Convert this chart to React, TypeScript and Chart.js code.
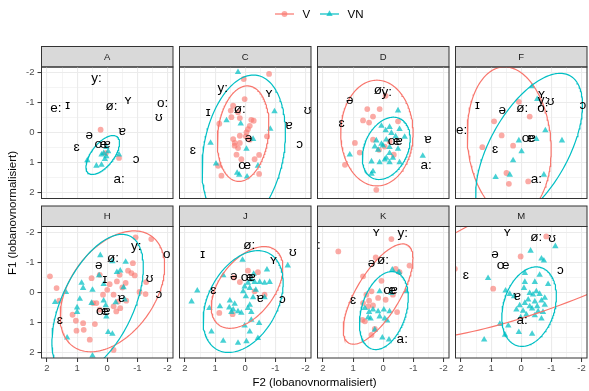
import React, { useEffect, useRef } from "react";
import { Chart, registerables } from "chart.js";

Chart.register(...registerables);

type Pt = [number, number];
type Lbl = [string, number, number];
// centre x, centre y, semi-major, semi-minor, angle (degrees, data space)
type Ell = [number, number, number, number, number] | null;

// ---- panel A ----
const A_V: Pt[] = [[0.22, -0.1], [-0.39, 0.84], [0.05, 0.68]];
const A_VN: Pt[] = [[0.03, 0.48], [0.12, 0.68], [0.19, 0.73], [0.03, 0.79], [0.08, 0.88], [0.36, 1.1], [0.19, 1.07], [0.66, 0.92], [-0.39, 0.73], [-0.03, 0.62]];
const A_LABELS: Lbl[] = [["y:", 0.36, -1.82], ["e:", 1.7, -0.82], ["ɪ", 1.31, -0.93], ["ø:", -0.14, -0.88], ["ʏ", -0.69, -1.07], ["o:", -1.84, -0.97], ["ʊ", -1.71, -0.52], ["ʊ", -2.3, -1.99], ["ə", 0.6, 0.1], ["ɐ", -0.5, -0.04], ["ɛ", 1.02, 0.48], ["œ", 0.21, 0.4], ["ɐ", 0.01, 0.38], ["ɔ", -0.96, 0.88], ["a:", -0.39, 1.54]];
const A_V_ELL: Ell = null;
const A_VN_ELL: Ell = [0.15, 0.74, 0.77, 0.37, 52];

// ---- panel C ----
const C_V: Pt[] = [[-0.79, -1.96], [0.05, -1.79], [0.02, -1.12], [0.4, -0.9], [0.48, -0.74], [0.24, -0.68], [0.18, -0.49], [0.46, -0.52], [0.86, -0.3], [-0.28, -0.4], [-0.2, -0.43], [-0.15, -0.23], [-0.09, -0.12], [-0.04, -0.01], [-0.02, 0.12], [0.4, 0.21], [0.18, 0.1], [0.35, 0.34], [0.18, 0.34], [0.24, 0.51], [0.29, 0.73], [0.13, 0.88], [-0.31, 0.88], [-0.46, 0.74], [-0.46, 1.37], [0.79, 1.43], [0.9, 1.1], [-0.72, 0.12], [0.35, 0.43], [-0.15, 0.23]];
const C_VN: Pt[] = [[0.24, -2.02], [-0.97, -0.71], [0.62, -0.41], [0.15, -0.3], [-0.83, -0.13], [-0.26, 0.21], [1.15, 0.34], [-0.04, 0.54], [0.97, 1.03], [0.27, 1.34], [-0.06, 1.46], [-0.42, 1.1], [0.2, 1.4]];
const C_LABELS: Lbl[] = [["y:", 0.75, -1.49], ["ʏ", -0.79, -1.3], ["ɪ", 1.23, -0.68], ["ø:", 0.18, -0.79], ["ʊ", -2.07, -0.74], ["ɐ", -1.45, -0.24], ["ə", -0.11, 0.18], ["ɔ", -1.8, 0.37], ["ɛ", 1.74, 0.59], ["œ", 0.02, 1.1]];
const C_V_ELL: Ell = [0.07, 0.03, 1.6, 0.84, 83];
const C_VN_ELL: Ell = [0.05, 0.6, 2.55, 1.33, 80];

// ---- panel D ----
const D_V: Pt[] = [[-0.08, -1.23], [0.53, -0.79], [0.12, -0.79], [0.67, -0.41], [0.34, -0.54], [0.47, -0.34], [-0.49, -0.38], [0.94, 0.34], [0.78, 0.66], [1.27, 1.07], [0.23, 1.9], [0.14, 0.57], [-0.35, 0.73], [-0.05, 0.46], [0.34, 0.23], [-0.21, 0.29]];
const D_VN: Pt[] = [[-0.49, -0.74], [0.06, -0.23], [-0.21, -0.19], [-0.54, -0.12], [-0.08, -0.08], [-0.27, 0.01], [-0.41, 0.12], [-0.71, 0.14], [-0.1, 0.23], [0.23, 0.26], [0.06, 0.37], [0.01, 0.43], [0.28, 0.46], [-0.21, 0.48], [-0.49, 0.54], [1.11, 0.73], [0.39, 0.96], [0.12, 0.99], [-0.05, 0.9], [-0.21, 0.99], [-0.1, 0.84], [-0.32, 0.84], [-0.54, 0.99], [0.34, 1.29], [0.39, 1.37], [-1.31, 0.77], [0.17, 0.57], [-0.21, 0.68]];
const D_LABELS: Lbl[] = [["ø:", 0.12, -1.41], ["y:", -0.12, -1.36], ["ə", 1.11, -1.07], ["ɛ", 1.38, -0.3], ["œ", -0.36, 0.29], ["ɐ", -0.52, 0.27], ["ɐ", -1.48, 0.21], ["a:", -1.42, 1.1]];
const D_V_ELL: Ell = [0.21, 0.01, 1.76, 1.2, 90];
const D_VN_ELL: Ell = [-0.1, 0.52, 1.09, 0.72, 66];

// ---- panel F ----
const F_V: Pt[] = [[0.08, -1.03], [-0.28, -0.54], [0.9, -0.38], [0.65, 0.09], [1.29, 0.48], [0.27, 0.43], [0.49, 1.34], [0.41, 1.7], [-0.23, 1.62]];
const F_VN: Pt[] = [[-0.36, -1.54], [-0.53, -1.12], [-0.8, -0.08], [0.08, 0.26], [-0.5, 0.21], [-1.35, 0.26], [-0.01, 0.62], [0.27, 0.92], [0.85, 1.48], [0.38, 1.4], [-0.75, 1.4]];
const F_LABELS: Lbl[] = [["ɪ", 1.45, -0.93], ["ə", 0.63, -0.74], ["ø:", -0.03, -0.82], ["ʏ", -0.67, -1.27], ["y:", -0.72, -1.08], ["ʊ", -0.97, -1.04], ["o:", -0.72, -0.8], ["ɔ", -2.04, -0.9], ["e:", 1.975, -0.08], ["œ", -0.23, 0.18], ["ɐ", -0.36, 0.18], ["ɛ", 0.87, 0.54], ["a:", -0.5, 1.54]];
const F_V_ELL: Ell = [0.4, 0.3, 2.5, 1.38, 95];
const F_VN_ELL: Ell = [-0.26, 0.55, 2.8, 1.3, 61];

// ---- panel H ----
const H_V: Pt[] = [[1.9, -0.53], [1.68, -0.14], [1.59, 0.28], [1.15, 0.75], [1.04, 0.95], [0.8, 1.03], [0.78, 1.25], [0.58, 1.58], [0.52, -0.47], [0.47, 0.36], [0.25, -0.58], [0.14, 0.08], [0.0, -0.08], [-0.08, -0.27], [-0.21, 0.08], [-0.32, -0.36], [-0.41, -0.58], [-0.5, -0.16], [-0.61, -0.31], [-0.69, -0.72], [-0.85, -0.97], [-0.8, -0.64], [-0.94, -1.83], [-1.46, -1.77], [-0.91, -0.56], [-1.07, -0.01], [-1.27, 0.06], [-1.29, -0.34], [-0.21, 0.47], [-0.3, 0.64], [0.36, 0.36], [0.25, 0.58], [-0.36, 0.31], [0.41, 1.06], [-0.21, 1.92], [-0.63, 0.28], [-0.43, 0.53], [1.02, 1.28]];
const H_VN: Pt[] = [[1.73, 0.33], [1.37, 0.0], [1.33, 1.51], [1.0, 0.51], [1.0, 0.66], [0.91, 0.22], [0.85, -0.31], [0.8, -0.14], [0.49, -0.08], [0.52, 0.36], [0.23, -1.23], [0.27, -0.56], [0.12, 0.28], [0.05, 0.44], [0.03, 0.81], [0.12, -0.27], [-0.17, -1.03], [-0.28, 0.34], [-0.32, -0.67], [-0.43, -0.72], [-0.61, -1.01], [-0.54, -0.16], [-0.58, 0.25], [-0.03, 1.33], [-0.17, 1.39], [0.49, 2.11]];
const H_LABELS: Lbl[] = [["y:", -0.96, -1.53], ["o", -1.97, -1.27], ["ø:", -0.19, -1.14], ["ə", 0.28, -0.89], ["ɪ", 0.08, -0.42], ["ʊ", -1.4, -0.47], ["ɔ", -1.71, 0.06], ["ɐ", -0.47, 0.19], ["œ", 0.16, 0.62], ["ɐ", 0.02, 0.62], ["ɛ", 1.57, 0.95]];
const H_V_ELL: Ell = [-0.17, -0.03, 2.25, 1.41, 55];
const H_VN_ELL: Ell = [0.32, 0.41, 2.52, 1.19, 65];

// ---- panel J ----
const J_V: Pt[] = [[0.38, -0.49], [0.18, -0.34], [-0.09, -0.72], [-0.42, -0.67], [-0.31, -0.03], [-0.64, 0.08], [0.86, 0.69], [0.42, 0.73]];
const J_VN: Pt[] = [[0.09, -1.08], [0.73, -0.56], [-0.72, -0.75], [-0.28, -0.61], [-0.2, -0.42], [-0.09, -0.31], [-0.31, -0.34], [-0.48, -0.34], [-0.64, -0.31], [-0.81, -0.34], [0.02, -0.19], [-0.15, -0.14], [0.07, -0.03], [-0.35, -0.08], [-0.02, 0.14], [-0.26, 0.17], [-0.64, 0.17], [0.51, 0.28], [0.35, 0.39], [0.53, 0.51], [0.4, 0.58], [0.46, 0.66], [0.24, 0.64], [0.13, 0.69], [-0.15, 0.42], [-0.09, 0.53], [-0.2, 0.66], [0.84, 0.47], [1.19, 0.53], [1.59, -0.05], [1.78, 0.31], [0.02, 1.11], [-0.15, 1.31], [-0.46, 1.03], [-0.42, 1.53], [0.24, 1.69], [-0.04, 1.64], [0.73, 1.62], [1.12, 1.31], [-1.41, -0.89], [-0.2, 0.92]];
const J_LABELS: Lbl[] = [["ɪ", 1.41, -1.27], ["ø:", -0.13, -1.56], ["ʊ", -1.58, -1.34], ["ʏ", -0.94, -1.05], ["ə", 0.38, -0.53], ["œ", -0.06, -0.49], ["ɐ", -0.22, -0.5], ["ɐ", -0.5, 0.19], ["ɛ", 1.06, -0.05], ["ɔ", -1.23, 0.25]];
const J_V_ELL: Ell = [-0.06, -0.16, 1.56, 0.91, 53];
const J_VN_ELL: Ell = [0.07, 0.31, 1.82, 1.15, 62];

// ---- panel K ----
const K_V: Pt[] = [[1.49, -1.36], [-0.27, -1.77], [0.25, -1.16], [-0.41, -0.78], [-0.87, -0.89], [0.67, -0.53], [0.06, -0.38], [-0.54, -0.67], [0.39, -0.03], [-0.32, 0.08], [0.56, 0.08], [0.17, 0.19], [-0.08, 0.25], [0.47, 0.28], [0.67, 0.36], [0.5, 0.47], [0.34, 0.44], [-0.46, 0.66], [0.69, 0.92], [0.61, 0.97], [0.28, 1.22], [0.39, 1.42]];
const K_VN: Pt[] = [[-0.3, -0.75], [-0.52, -0.67], [0.12, -0.03], [-0.27, 0.03], [-0.76, -0.03], [0.61, 0.53], [0.47, 0.66], [0.34, 0.58], [0.17, 0.64], [-0.02, 0.58], [-0.21, 0.64], [0.5, 0.84], [0.42, 0.88], [-0.05, 0.88], [-0.13, 0.95], [0.12, 0.81], [0.28, 1.25], [0.03, 1.51], [-0.19, 1.58]];
const K_LABELS: Lbl[] = [["ʏ", 0.23, -2.01], ["y:", -0.65, -1.97], ["e:", 2.26, -1.58], ["ə", 0.39, -0.97], ["ø:", 0.01, -1.08], ["œ", -0.21, -0.05], ["ɐ", -0.36, -0.05], ["ɛ", 1.0, 0.28], ["a:", -0.63, 1.58]];
const K_V_ELL: Ell = [0.17, 0.06, 1.9, 0.72, 59];
const K_VN_ELL: Ell = [-0.02, 0.61, 1.34, 0.74, 73];

// ---- panel M ----
const M_V: Pt[] = [[0.02, -1.19], [0.93, -0.12], [-0.83, -1.86], [2.2, -0.78]];
const M_VN: Pt[] = [[-0.31, -1.38], [-0.67, -1.12], [-0.75, -1.05], [-1.13, -1.53], [-0.12, -0.64], [-0.61, -0.58], [1.1, -0.47], [-0.12, -0.34], [-0.45, -0.34], [-0.89, -0.27], [0.52, -0.05], [0.38, 0.06], [-0.09, -0.14], [-0.28, 0.03], [-0.39, 0.08], [-0.5, -0.03], [-0.61, 0.06], [-0.78, 0.19], [-0.23, 0.25], [-0.45, 0.31], [-0.67, 0.28], [-0.12, 0.36], [0.05, 0.44], [-0.28, 0.47], [-0.53, 0.47], [-0.78, 0.42], [0.16, 0.58], [-0.06, 0.62], [-0.36, 0.55], [-0.56, 0.64], [-0.72, 0.66], [-0.17, 0.75], [-0.45, 0.77], [0.02, 0.84], [-0.67, 0.88], [0.71, 1.06], [0.43, 1.11], [0.08, 1.33], [-0.36, 1.39], [0.54, 1.42], [1.23, 1.58], [0.24, 0.14]];
const M_LABELS: Lbl[] = [["ʏ", 0.46, -2.01], ["ø:", -0.5, -1.83], ["ʊ", -1.02, -1.81], ["ə", 0.87, -1.25], ["œ", 0.6, -0.89], ["ɛ", 1.84, -0.56], ["ɔ", -1.3, -0.72], ["ɐ", 0.13, 0.14], ["a:", -0.03, 0.95]];
const M_V_ELL: Ell = [-1.27, -1.56, 7.08, 1.86, 22];
const M_VN_ELL: Ell = [-0.26, 0.48, 1.36, 0.85, 73];

const PANEL_NAMES = ["A", "C", "D", "F", "H", "J", "K", "M"];
const V_POINTS: Pt[][] = [A_V, C_V, D_V, F_V, H_V, J_V, K_V, M_V];
const VN_POINTS: Pt[][] = [A_VN, C_VN, D_VN, F_VN, H_VN, J_VN, K_VN, M_VN];
const LABELS: Lbl[][] = [A_LABELS, C_LABELS, D_LABELS, F_LABELS, H_LABELS, J_LABELS, K_LABELS, M_LABELS];
const V_ELLIPSES: Ell[] = [A_V_ELL, C_V_ELL, D_V_ELL, F_V_ELL, H_V_ELL, J_V_ELL, K_V_ELL, M_V_ELL];
const VN_ELLIPSES: Ell[] = [A_VN_ELL, C_VN_ELL, D_VN_ELL, F_VN_ELL, H_VN_ELL, J_VN_ELL, K_VN_ELL, M_VN_ELL];

const TICK_VALUES = [-2, -1.5, -1, -0.5, 0, 0.5, 1, 1.5, 2];
const X_LIM = 2.18;
const Y_LIM = 2.19;

// page layout
const PAGE_W = 589;
const PAGE_H = 391;
const PANEL_W = 131.5;
const PANEL_H = 131.5;
const STRIP_H = 20.5;
const COL_LEFT = [41.5, 179.5, 317.5, 455.5];
const ROW_TOP = [67, 226.5];

const RED = "#F8766D";
const TEAL = "#00BFC4";
const RED_FILL = "rgba(248,118,109,0.62)";
const TEAL_FILL = "rgba(0,191,196,0.72)";
const FONT = '"Liberation Sans", Arial, Helvetica, sans-serif';

Chart.defaults.font.family = FONT;

function ellipsePoints(e: Ell) {
  if (!e) return [];
  const [cx, cy, a, b, deg] = e;
  const th = (deg * Math.PI) / 180;
  const pts: { x: number; y: number }[] = [];
  const n = 180;
  for (let i = 0; i <= n; i++) {
    const t = (2 * Math.PI * i) / n;
    pts.push({
      x: cx + a * Math.cos(t) * Math.cos(th) - b * Math.sin(t) * Math.sin(th),
      y: cy + a * Math.cos(t) * Math.sin(th) + b * Math.sin(t) * Math.cos(th),
    });
  }
  return pts;
}

const isMajor = (v: any) => typeof v === "number" && Number.isInteger(v);

function makeConfig(i: number): any {
  const col = i % 4;
  const row = Math.floor(i / 4);
  const left = COL_LEFT[col];
  const top = ROW_TOP[row];
  const below = PAGE_H - top - PANEL_H;
  const showY = col === 0;
  const showX = row === 1;
  const toXY = (p: Pt) => ({ x: p[0], y: p[1] });

  const datasets: any[] = [];
  const vnEll = VN_ELLIPSES[i];
  const vEll = V_ELLIPSES[i];
  if (vnEll) {
    datasets.push({
      label: "VN ellipse",
      data: ellipsePoints(vnEll),
      showLine: true,
      borderColor: TEAL,
      borderWidth: 1.2,
      pointRadius: 0,
      fill: false,
      tension: 0,
      clip: 0,
    });
  }
  if (vEll) {
    datasets.push({
      label: "V ellipse",
      data: ellipsePoints(vEll),
      showLine: true,
      borderColor: RED,
      borderWidth: 1.2,
      pointRadius: 0,
      fill: false,
      tension: 0,
      clip: 0,
    });
  }
  datasets.push({
    label: "VN",
    data: VN_POINTS[i].map(toXY),
    pointStyle: "triangle",
    pointRadius: 3.7,
    backgroundColor: TEAL_FILL,
    borderWidth: 0,
    clip: 0,
  });
  datasets.push({
    label: "V",
    data: V_POINTS[i].map(toXY),
    pointStyle: "circle",
    pointRadius: 2.9,
    backgroundColor: RED_FILL,
    borderWidth: 0,
    clip: 0,
  });

  const grid = (ticksOn: boolean) => ({
    color: "#EBEBEB",
    lineWidth: (c: any) => (isMajor(c.tick?.value) ? 1.1 : 0.55),
    drawTicks: ticksOn,
    tickLength: 4,
    tickWidth: 1,
    tickColor: (c: any) => (isMajor(c.tick?.value) ? "#333333" : "rgba(0,0,0,0)"),
  });
  const ticks = (on: boolean, pad: number) => ({
    display: on,
    color: "#4D4D4D",
    font: { size: 9.5, family: FONT },
    padding: pad,
    autoSkip: false,
    maxRotation: 0,
    minRotation: 0,
    callback: (v: any) => (isMajor(Number(v)) ? String(v) : ""),
  });
  const setTicks = (s: any) => {
    s.ticks = TICK_VALUES.map((v) => ({ value: v }));
  };

  const labels = LABELS[i];
  const name = PANEL_NAMES[i];

  const panelPlugin = {
    id: "panelFrame",
    beforeDraw(chart: any) {
      const { ctx, chartArea } = chart;
      const { left: l, top: t, right: r, bottom: b } = chartArea;
      ctx.save();
      ctx.fillStyle = "#FFFFFF";
      ctx.fillRect(l, t, r - l, b - t);
      // facet strip
      ctx.fillStyle = "#D9D9D9";
      ctx.fillRect(l, t - STRIP_H, r - l, STRIP_H);
      ctx.strokeStyle = "#333333";
      ctx.lineWidth = 1;
      ctx.strokeRect(l, t - STRIP_H, r - l, STRIP_H);
      ctx.fillStyle = "#1A1A1A";
      ctx.font = `9.5px ${FONT}`;
      ctx.textAlign = "center";
      ctx.textBaseline = "middle";
      ctx.fillText(name, (l + r) / 2, t - STRIP_H / 2 + 0.5);
      ctx.restore();
    },
    afterDatasetsDraw(chart: any) {
      const { ctx, chartArea, scales } = chart;
      ctx.save();
      ctx.beginPath();
      ctx.rect(chartArea.left, chartArea.top, chartArea.right - chartArea.left, chartArea.bottom - chartArea.top);
      ctx.clip();
      ctx.fillStyle = "#000000";
      ctx.font = `13.5px ${FONT}`;
      ctx.textAlign = "center";
      ctx.textBaseline = "middle";
      for (const [txt, x, y] of labels) {
        ctx.fillText(txt, scales.x.getPixelForValue(x), scales.y.getPixelForValue(y));
      }
      ctx.restore();
    },
    afterDraw(chart: any) {
      const { ctx, chartArea } = chart;
      ctx.save();
      ctx.strokeStyle = "#333333";
      ctx.lineWidth = 1;
      ctx.strokeRect(chartArea.left, chartArea.top, chartArea.right - chartArea.left, chartArea.bottom - chartArea.top);
      ctx.restore();
    },
  };

  return {
    type: "scatter",
    data: { datasets },
    options: {
      animation: false,
      responsive: false,
      devicePixelRatio: 1,
      events: [],
      layout: {
        autoPadding: false,
        padding: {
          left: showY ? 0 : left,
          top,
          right: PAGE_W - left - PANEL_W,
          bottom: showX ? 0 : below,
        },
      },
      plugins: { legend: { display: false }, tooltip: { enabled: false } },
      scales: {
        x: {
          type: "linear",
          min: -X_LIM,
          max: X_LIM,
          reverse: true,
          border: { display: false },
          grid: grid(showX),
          ticks: ticks(showX, 1),
          afterBuildTicks: setTicks,
          afterFit: (s: any) => {
            s.height = showX ? below : 0;
          },
        },
        y: {
          type: "linear",
          min: -Y_LIM,
          max: Y_LIM,
          reverse: true,
          border: { display: false },
          grid: grid(showY),
          ticks: ticks(showY, 3),
          afterBuildTicks: setTicks,
          afterFit: (s: any) => {
            s.width = showY ? left : 0;
          },
        },
      },
    },
    plugins: [panelPlugin],
  };
}

function Panel({ index }: { index: number }) {
  const ref = useRef<HTMLCanvasElement>(null);
  useEffect(() => {
    if (!ref.current) return;
    const chart = new Chart(ref.current, makeConfig(index));
    return () => chart.destroy();
  }, [index]);
  return (
    <canvas
      ref={ref}
      width={PAGE_W}
      height={PAGE_H}
      style={{ position: "absolute", left: 0, top: 0, width: PAGE_W, height: PAGE_H }}
    />
  );
}

function Legend() {
  return (
    <svg
      width={PAGE_W}
      height={30}
      style={{ position: "absolute", left: 0, top: 0 }}
      fontFamily={FONT}
    >
      <line x1={275} x2={294} y1={14} y2={14} stroke={RED} strokeWidth={1.2} />
      <circle cx={284.5} cy={14} r={2.9} fill={RED_FILL} />
      <text x={302.5} y={18} fontSize={11.5} fill="#000">V</text>
      <line x1={320} x2={339} y1={14} y2={14} stroke={TEAL} strokeWidth={1.2} />
      <polygon points="329.5,10.3 326.3,15.9 332.7,15.9" fill={TEAL_FILL} />
      <text x={347.5} y={18} fontSize={11.5} fill="#000">VN</text>
    </svg>
  );
}

export default function App() {
  return (
    <div
      style={{
        position: "fixed",
        left: 0,
        top: 0,
        width: PAGE_W,
        height: PAGE_H,
        background: "#FFFFFF",
        overflow: "hidden",
        fontFamily: FONT,
      }}
    >
      {PANEL_NAMES.map((n, i) => (
        <Panel key={n} index={i} />
      ))}
      <Legend />
      <div
        style={{
          position: "absolute",
          left: 41.5,
          width: 546,
          top: 375,
          height: 14,
          lineHeight: "14px",
          fontSize: 11.5,
          textAlign: "center",
          color: "#000",
        }}
      >
        F2 (lobanovnormalisiert)
      </div>
      <div
        style={{
          position: "absolute",
          left: 12 - 150,
          top: 212.5 - 7,
          width: 300,
          height: 14,
          lineHeight: "14px",
          fontSize: 11.5,
          textAlign: "center",
          color: "#000",
          transform: "rotate(-90deg)",
          transformOrigin: "50% 50%",
        }}
      >
        F1 (lobanovnormalisiert)
      </div>
    </div>
  );
}
